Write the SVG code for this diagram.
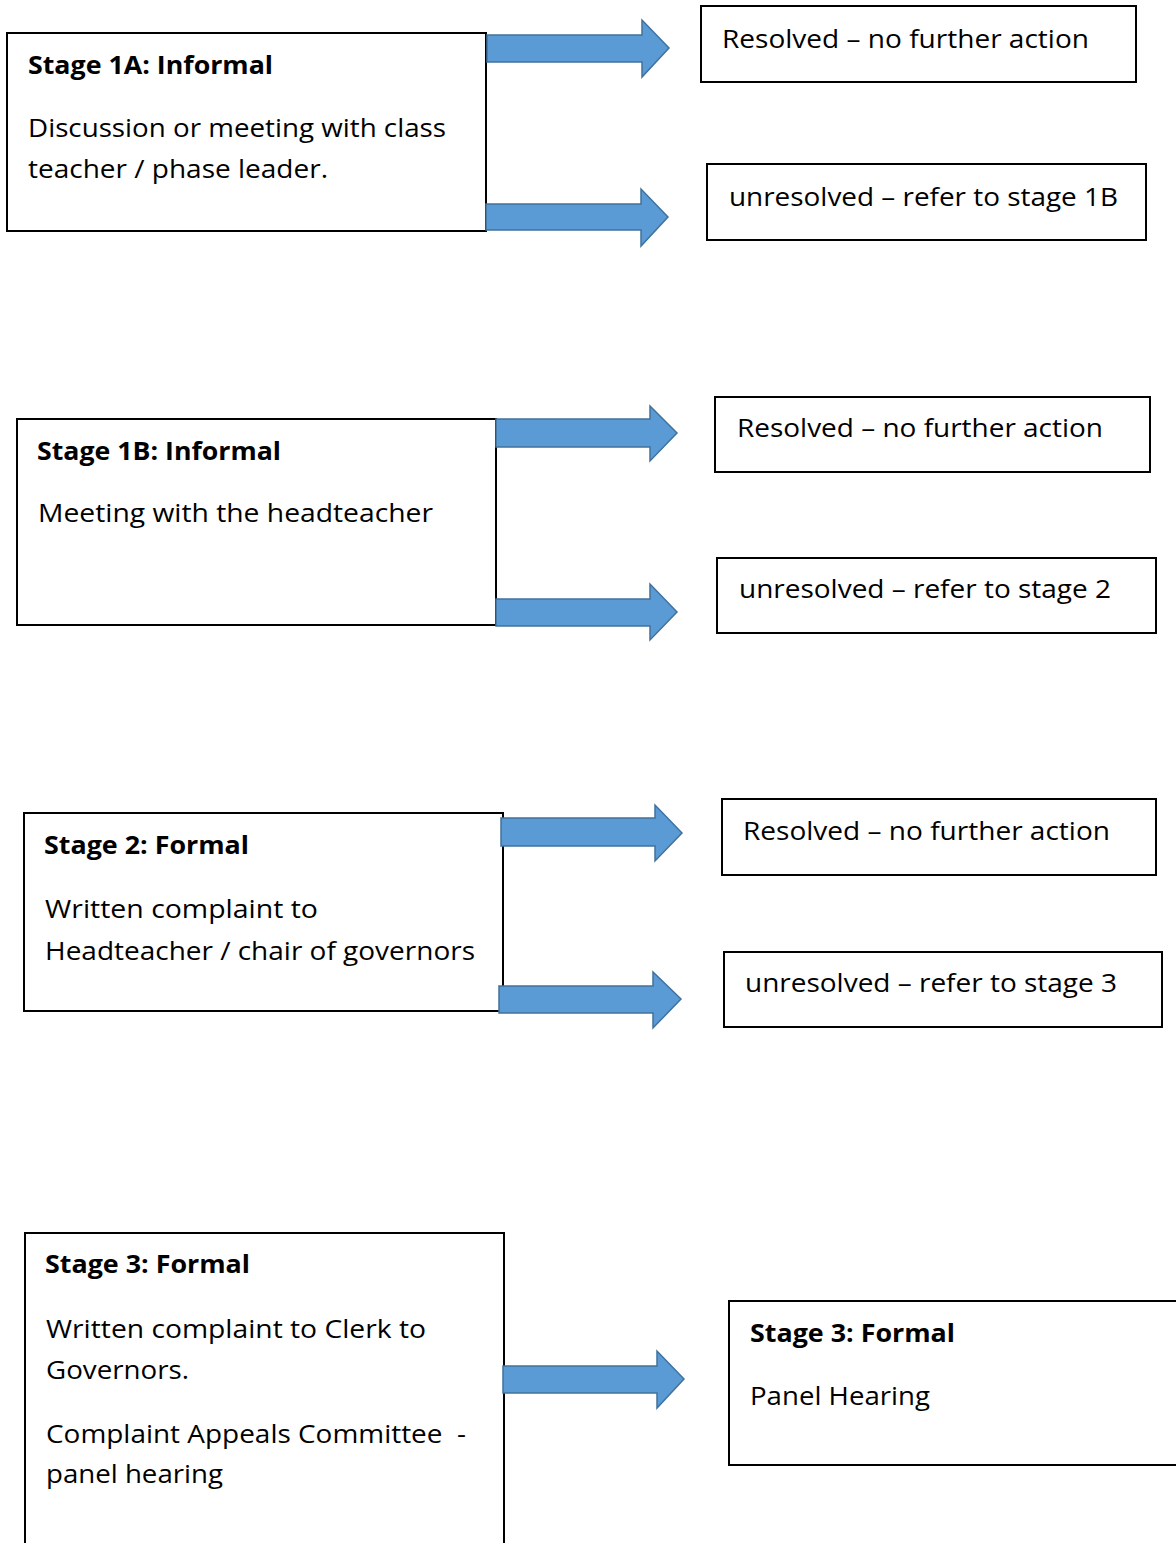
<svg xmlns="http://www.w3.org/2000/svg" width="1176" height="1543" viewBox="0 0 1176 1543">
<style>
.box{fill:#fff;stroke:#000;stroke-width:2}
.t{font-family:"Open Sans","Noto Sans","Liberation Sans",sans-serif;font-size:25px;fill:#000}
.b{font-weight:bold}
.arr{fill:#5B9BD5;stroke:#41719C;stroke-width:1.5;stroke-linejoin:miter}
</style>
<rect width="1176" height="1543" fill="#fff"/>
<g id="stage1a">
<rect class="box" x="7" y="33" width="479" height="198"/>
<text class="t b" x="28" y="74" textLength="245" lengthAdjust="spacingAndGlyphs">Stage 1A: Informal</text>
<text class="t" x="28" y="137" textLength="418" lengthAdjust="spacingAndGlyphs">Discussion or meeting with class</text>
<text class="t" x="28" y="178" textLength="300" lengthAdjust="spacingAndGlyphs">teacher / phase leader.</text>
</g>
<g id="resolved1a">
<rect class="box" x="701" y="6" width="435" height="76"/>
<text class="t" x="722" y="48" textLength="367" lengthAdjust="spacingAndGlyphs">Resolved – no further action</text>
</g>
<g id="unresolved1a">
<rect class="box" x="707" y="164" width="439" height="76"/>
<text class="t" x="729" y="206" textLength="389" lengthAdjust="spacingAndGlyphs">unresolved – refer to stage 1B</text>
</g>
<g id="stage1b">
<rect class="box" x="17" y="419" width="479" height="206"/>
<text class="t b" x="37" y="460" textLength="244" lengthAdjust="spacingAndGlyphs">Stage 1B: Informal</text>
<text class="t" x="38" y="522" textLength="395" lengthAdjust="spacingAndGlyphs">Meeting with the headteacher</text>
</g>
<g id="resolved1b">
<rect class="box" x="715" y="397" width="435" height="75"/>
<text class="t" x="737" y="437" textLength="366" lengthAdjust="spacingAndGlyphs">Resolved – no further action</text>
</g>
<g id="unresolved1b">
<rect class="box" x="717" y="558" width="439" height="75"/>
<text class="t" x="739" y="598" textLength="372" lengthAdjust="spacingAndGlyphs">unresolved – refer to stage 2</text>
</g>
<g id="stage2">
<rect class="box" x="24" y="813" width="479" height="198"/>
<text class="t b" x="44" y="854" textLength="205" lengthAdjust="spacingAndGlyphs">Stage 2: Formal</text>
<text class="t" x="45" y="918" textLength="273" lengthAdjust="spacingAndGlyphs">Written complaint to</text>
<text class="t" x="45" y="960" textLength="430" lengthAdjust="spacingAndGlyphs">Headteacher / chair of governors</text>
</g>
<g id="resolved2">
<rect class="box" x="722" y="799" width="434" height="76"/>
<text class="t" x="743" y="840" textLength="367" lengthAdjust="spacingAndGlyphs">Resolved – no further action</text>
</g>
<g id="unresolved2">
<rect class="box" x="724" y="952" width="438" height="75"/>
<text class="t" x="745" y="992" textLength="372" lengthAdjust="spacingAndGlyphs">unresolved – refer to stage 3</text>
</g>
<g id="stage3">
<rect class="box" x="25" y="1233" width="479" height="340"/>
<text class="t b" x="45" y="1273" textLength="205" lengthAdjust="spacingAndGlyphs">Stage 3: Formal</text>
<text class="t" x="46" y="1338" textLength="380" lengthAdjust="spacingAndGlyphs">Written complaint to Clerk to</text>
<text class="t" x="46" y="1379" textLength="143" lengthAdjust="spacingAndGlyphs">Governors.</text>
<text class="t" x="46" y="1443" textLength="420" lengthAdjust="spacingAndGlyphs" xml:space="preserve" style="white-space:pre">Complaint Appeals Committee  -</text>
<text class="t" x="46" y="1483" textLength="177" lengthAdjust="spacingAndGlyphs">panel hearing</text>
</g>
<g id="stage3panel">
<rect class="box" x="729" y="1301" width="480" height="164"/>
<text class="t b" x="750" y="1342" textLength="205" lengthAdjust="spacingAndGlyphs">Stage 3: Formal</text>
<text class="t" x="750" y="1405" textLength="180" lengthAdjust="spacingAndGlyphs">Panel Hearing</text>
</g>
<g id="connectors">
<polygon class="arr" points="487,35 642,35 642,20 669,48 642,77 642,62 487,62"/>
<polygon class="arr" points="486,204 641,204 641,189 668,217 641,246 641,230 486,230"/>
<polygon class="arr" points="496,419 650,419 650,406 677,433 650,461 650,447 496,447"/>
<polygon class="arr" points="496,599 650,599 650,584 677,612 650,640 650,626 496,626"/>
<polygon class="arr" points="501,818 655,818 655,805 682,833 655,861 655,846 501,846"/>
<polygon class="arr" points="499,986 653,986 653,972 681,999 653,1028 653,1013 499,1013"/>
<polygon class="arr" points="503,1366 657,1366 657,1351 684,1379 657,1408 657,1393 503,1393"/>
</g>
</svg>
